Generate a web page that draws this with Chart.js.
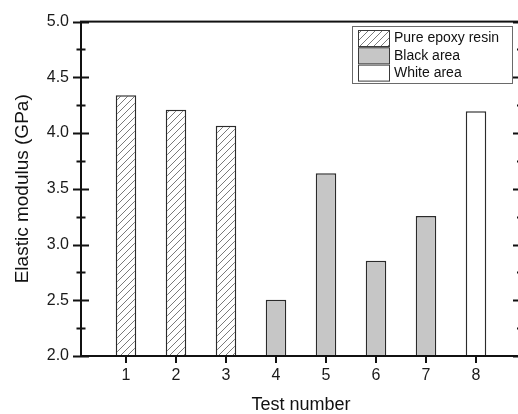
<!DOCTYPE html>
<html>
<head>
<meta charset="utf-8">
<script src="https://cdn.jsdelivr.net/npm/chart.js@4.4.0/dist/chart.umd.min.js"></script>
<style>
  html, body { margin: 0; padding: 0; background: #fff; overflow: hidden; }
</style>
</head>
<body>
<canvas id="modulusChart" width="524" height="414"></canvas>
<script>
// elastic modulus per indentation test
const testNumbers = [1, 2, 3, 4, 5, 6, 7, 8];
const modulus = [4.34, 4.21, 4.065, 2.505, 3.64, 2.855, 3.255, 4.195];
const sampleGroups = ['Pure epoxy resin', 'Pure epoxy resin', 'Pure epoxy resin',
                      'Black area', 'Black area', 'Black area', 'Black area', 'White area'];
const groupNames = ['Pure epoxy resin', 'Black area', 'White area'];
const yTicks = [2.0, 2.5, 3.0, 3.5, 4.0, 4.5, 5.0];

const FONT = 'Liberation Sans, Arial, sans-serif';
const INK = '#111';

function hatchPattern() {
    const c = document.createElement('canvas');
    c.width = 7; c.height = 7;
    const g = c.getContext('2d');
    g.fillStyle = '#fff';
    g.fillRect(0, 0, 7, 7);
    g.strokeStyle = '#7a7a7a';
    g.lineWidth = 1;
    g.beginPath();
    g.moveTo(0, 7); g.lineTo(7, 0);
    g.moveTo(-1, 1); g.lineTo(1, -1);
    g.moveTo(6, 8); g.lineTo(8, 6);
    g.stroke();
    return g.createPattern(c, 'repeat');
}

const fills = {
    'Pure epoxy resin': hatchPattern(),
    'Black area': '#c6c6c6',
    'White area': '#ffffff'
};

const datasets = groupNames.map(name => ({
    label: name,
    data: testNumbers
        .map((t, i) => sampleGroups[i] === name ? { x: t, y: modulus[i] } : null)
        .filter(p => p !== null),
    backgroundColor: fills[name],
    borderColor: '#2b2b2b',
    borderWidth: 1.5,
    borderSkipped: false,
    grouped: false,
    barPercentage: 0.41,
    categoryPercentage: 1
}));

// axis frame, tick marks and the boxed legend
const framePlugin = {
    id: 'frame',
    afterDatasetsDraw(chart) {
        const { ctx, chartArea: a, scales: { x, y } } = chart;
        ctx.save();
        ctx.strokeStyle = INK;
        ctx.lineCap = 'butt';

        // minor ticks halfway between labelled ones
        const minor = [];
        for (let i = 0; i < yTicks.length - 1; i++) minor.push((yTicks[i] + yTicks[i + 1]) / 2);

        ctx.lineWidth = 2;
        ctx.beginPath();
        yTicks.forEach(v => {
            const py = Math.round(y.getPixelForValue(v)) + 0.5;
            ctx.moveTo(a.left - 8, py); ctx.lineTo(a.left + 8, py);
            ctx.moveTo(a.right - 8, py); ctx.lineTo(a.right, py);
        });
        minor.forEach(v => {
            const py = Math.round(y.getPixelForValue(v)) + 0.5;
            ctx.moveTo(a.left - 4.5, py); ctx.lineTo(a.left + 4.5, py);
            ctx.moveTo(a.right - 4, py); ctx.lineTo(a.right, py);
        });
        testNumbers.forEach(t => {
            const px = Math.round(x.getPixelForValue(t));
            ctx.moveTo(px, a.bottom); ctx.lineTo(px, a.bottom + 7);
        });
        ctx.stroke();

        // box
        ctx.lineWidth = 2;
        ctx.strokeRect(a.left, a.top, a.right - a.left, a.bottom - a.top);

        // legend
        const lx = 352, ly = 26, lw = 160, lh = 57;
        ctx.lineWidth = 1;
        ctx.strokeStyle = '#6a6a6a';
        ctx.fillStyle = '#fff';
        ctx.fillRect(lx, ly, lw, lh);
        ctx.strokeRect(lx + 0.5, ly + 0.5, lw, lh);
        ctx.font = '14px ' + FONT;
        ctx.textBaseline = 'middle';
        chart.data.datasets.forEach((ds, i) => {
            const sy = 30 + i * 17.3;
            ctx.fillStyle = ds.backgroundColor;
            ctx.fillRect(358, sy, 31, 16);
            ctx.strokeStyle = '#3a3a3a';
            ctx.strokeRect(358.5, sy + 0.5, 31, 16);
            ctx.fillStyle = INK;
            ctx.fillText(ds.label, 394, sy + 8.5);
        });
        ctx.restore();
    }
};

new Chart(document.getElementById('modulusChart'), {
    type: 'bar',
    data: { datasets },
    options: {
        responsive: false,
        animation: false,
        layout: { padding: { top: 21, right: 3, left: 0, bottom: 0 } },
        plugins: { legend: { display: false }, tooltip: { enabled: false } },
        scales: {
            x: {
                type: 'linear',
                min: 0.1,
                max: 8.9,
                offset: false,
                afterBuildTicks: s => { s.ticks = testNumbers.map(v => ({ value: v })); },
                afterFit: s => { s.height = 58; },
                grid: { display: false, drawTicks: false },
                border: { display: false },
                ticks: {
                    autoSkip: false,
                    maxRotation: 0,
                    padding: 10,
                    color: '#1a1a1a',
                    font: { family: FONT, size: 16 },
                    callback: v => String(v)
                },
                title: {
                    display: true,
                    text: 'Test number',
                    color: INK,
                    font: { family: FONT, size: 18, lineHeight: 1 },
                    padding: { top: 0, bottom: 0 }
                }
            },
            y: {
                min: 2,
                max: 5,
                afterBuildTicks: s => { s.ticks = yTicks.map(v => ({ value: v })); },
                afterFit: s => { s.width = 81; },
                grid: { display: false, drawTicks: false },
                border: { display: false },
                ticks: {
                    padding: 12,
                    color: '#1a1a1a',
                    font: { family: FONT, size: 16 },
                    callback: v => Number(v).toFixed(1)
                },
                title: {
                    display: true,
                    text: 'Elastic modulus (GPa)',
                    color: INK,
                    font: { family: FONT, size: 19 },
                    padding: { top: 11, bottom: 0 }
                }
            }
        }
    },
    plugins: [framePlugin]
});
</script>
</body>
</html>
